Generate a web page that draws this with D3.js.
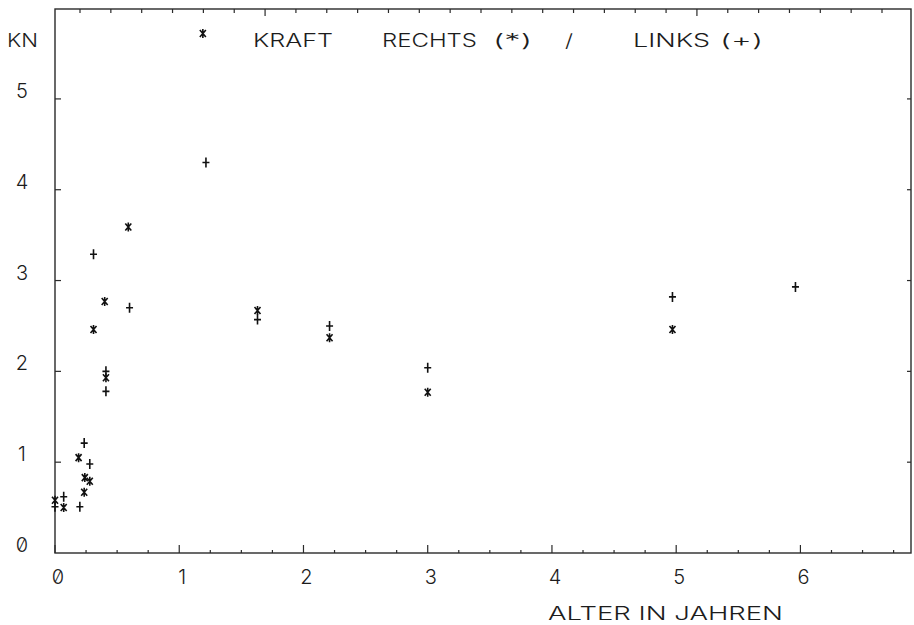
<!DOCTYPE html>
<html>
<head>
<meta charset="utf-8">
<script src="https://cdnjs.cloudflare.com/ajax/libs/d3/7.8.5/d3.min.js"></script>
<style>
    body { margin: 0; background: #fff; }
    svg { display: block; }
    text {
        font-family: Inter, 'DejaVu Sans', sans-serif;
        font-weight: 300;
        fill: #1c1c1c;
        font-feature-settings: 'zero' 1;
    }
    .frame { fill: none; stroke: #2a2a2a; stroke-width: 1.4; }
    .tick { stroke: #2a2a2a; stroke-width: 1.2; }
    .mark { fill: none; stroke: #111; stroke-width: 1.6; }
</style>
</head>
<body>
<div id="chart"></div>
<script>
var WIDTH = 914
var HEIGHT = 625

var TITLE_PARTS = ['KRAFT', 'RECHTS', '(*)', '/', 'LINKS', '(+)']
var Y_UNIT = 'KN'
var X_TITLE = 'ALTER IN JAHREN'

var X_TICKS = [0, 1, 2, 3, 4, 5, 6]
var Y_TICKS = [0, 1, 2, 3, 4, 5]

// rechts (*)
var rechtsAlter = [0.00, 0.07, 0.19, 0.235, 0.24, 0.28, 0.31, 0.40, 0.41, 0.59, 1.19, 1.63, 2.21, 3.00, 4.97]
var rechtsKraft = [0.58, 0.50, 1.05, 0.67, 0.83, 0.79, 2.46, 2.77, 1.93, 3.59, 5.72, 2.67, 2.37, 1.77, 2.46]

// links (+)
var linksAlter = [0.00, 0.07, 0.20, 0.235, 0.28, 0.31, 0.41, 0.41, 0.60, 1.215, 1.63, 2.21, 3.00, 4.97, 5.96]
var linksKraft = [0.51, 0.62, 0.51, 1.21, 0.98, 3.29, 2.00, 1.78, 2.70, 4.30, 2.57, 2.50, 2.04, 2.82, 2.93]

var svg = d3.select('#chart')
    .append('svg')
    .attr('width', WIDTH)
    .attr('height', HEIGHT)

var x = d3.scaleLinear().domain([0, 6.89]).range([55, 911])
var y = d3.scaleLinear().domain([0, 5.99]).range([553, 9])
// tick marks along the top edge of the frame
var xTop = d3.scaleLinear().domain([0, 26]).range([80, 882])

var x0 = x.range()[0], x1 = x.range()[1]
var y0 = y.range()[0], y1 = y.range()[1]

svg.append('rect')
    .attr('class', 'frame')
    .attr('x', x0)
    .attr('y', y1)
    .attr('width', x1 - x0)
    .attr('height', y0 - y1)

// bottom ticks, every quarter year
var xMinor = d3.range(0, 6.9, 0.25)
svg.append('g').selectAll('line')
    .data(xMinor)
    .enter().append('line')
    .attr('class', 'tick')
    .attr('x1', function (d) { return x(d) })
    .attr('x2', function (d) { return x(d) })
    .attr('y1', y0)
    .attr('y2', function (d) { return d % 1 === 0 ? y0 - 8 : y0 - 3 })

svg.append('g').selectAll('text')
    .data(X_TICKS)
    .enter().append('text')
    .attr('x', function (d) { return x(d) + 3 })
    .attr('y', 584)
    .attr('text-anchor', 'middle')
    .style('font-size', '20px')
    .text(function (d) { return d })

// left and right ticks
svg.append('g').selectAll('line')
    .data(Y_TICKS.slice(1))
    .enter().append('line')
    .attr('class', 'tick')
    .attr('x1', x0)
    .attr('x2', x0 + 6)
    .attr('y1', function (d) { return y(d) })
    .attr('y2', function (d) { return y(d) })

svg.append('g').selectAll('line')
    .data(Y_TICKS.slice(1))
    .enter().append('line')
    .attr('class', 'tick')
    .attr('x1', x1)
    .attr('x2', x1 - 4)
    .attr('y1', function (d) { return y(d) })
    .attr('y2', function (d) { return y(d) })

svg.append('g').selectAll('text')
    .data(Y_TICKS)
    .enter().append('text')
    .attr('x', 22)
    .attr('y', function (d) { return y(d) - 1 })
    .attr('text-anchor', 'middle')
    .style('font-size', '20px')
    .text(function (d) { return d })

// top ticks
svg.append('g').selectAll('line')
    .data(d3.range(0, 27))
    .enter().append('line')
    .attr('class', 'tick')
    .attr('x1', function (d) { return xTop(d) })
    .attr('x2', function (d) { return xTop(d) })
    .attr('y1', y1)
    .attr('y2', function (d) { return (d === 6 || d === 20) ? y1 + 7 : y1 + 4 })

// labels
svg.append('text')
    .attr('x', 7)
    .attr('y', 47)
    .attr('textLength', 31)
    .attr('lengthAdjust', 'spacingAndGlyphs')
    .style('font-size', '19px')
    .text(Y_UNIT)

svg.append('text')
    .attr('x', 548)
    .attr('y', 620)
    .attr('textLength', 235)
    .attr('lengthAdjust', 'spacingAndGlyphs')
    .style('font-size', '18px')
    .text(X_TITLE)

var titleX = [253, 382, 493, 565, 633, 720]
var titleW = [80, 95, 39, 8, 77, 43]
svg.append('g').selectAll('text')
    .data(TITLE_PARTS)
    .enter().append('text')
    .attr('x', function (d, i) { return titleX[i] })
    .attr('y', 47)
    .attr('textLength', function (d, i) { return titleW[i] })
    .attr('lengthAdjust', 'spacingAndGlyphs')
    .style('font-size', '18px')
    .text(function (d) { return d })

// markers
var starPath = 'M0,-4.5V4.5M-3,-3.5L3,3.5M-3,3.5L3,-3.5'
var plusPath = 'M0,-5V5M-3.5,0H3.5'

svg.append('g').selectAll('path')
    .data(rechtsAlter)
    .enter().append('path')
    .attr('class', 'mark')
    .attr('d', starPath)
    .attr('transform', function (d, i) {
        return 'translate(' + x(d) + ',' + y(rechtsKraft[i]) + ')'
    })

svg.append('g').selectAll('path')
    .data(linksAlter)
    .enter().append('path')
    .attr('class', 'mark')
    .attr('d', plusPath)
    .attr('transform', function (d, i) {
        return 'translate(' + x(d) + ',' + y(linksKraft[i]) + ')'
    })
</script>
</body>
</html>
